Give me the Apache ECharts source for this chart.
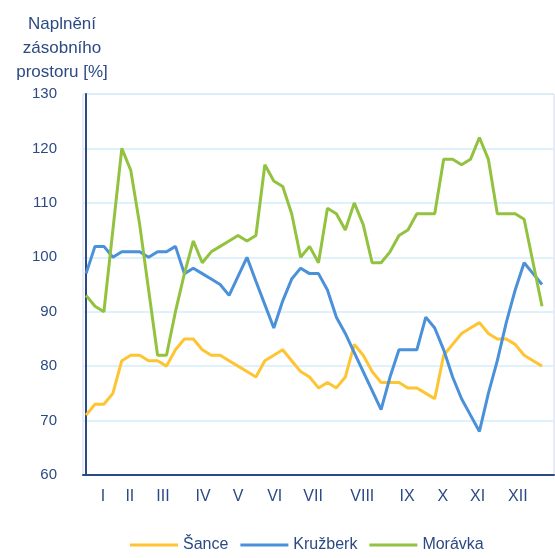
<!DOCTYPE html>
<html>
<head>
<meta charset="utf-8">
<script src="https://cdn.jsdelivr.net/npm/echarts@6/dist/echarts.min.js"></script>
<style>
html,body{margin:0;padding:0;background:#fff;}
#container{width:555px;height:558px;}
</style>
</head>
<body>
<div id="container"></div>
<script>
// tydenni hodnoty naplneni [%], 52 tydnu
var sance = [71,73,73,75,81,82,82,81,81,80,83,85,85,83,82,82,81,80,79,78,81,82,83,81,79,78,
	76,77,76,78,84,82,79,77,77,77,76,76,75,74,82,84,86,87,88,86,85,85,84,82,81,80];
var kruzberk = [97,102,102,100,101,101,101,100,101,101,102,97,98,97,96,95,93,96.5,100,95.6,91.3,87,
	92,96,98,97,97,94,89,86,82.5,79,75.5,72,78,83,83,83,89,87,83,78,74,71,68,75,81,88,94,99,97,95];
var moravka = [93,91,90,105,120,116,106,94,82,82,90,97,103,99,101,102,103,104,103,104,117,114,
	113,108,100,102,99,109,108,105,110,106,99,99,101,104,105,108,108,108,118,118,117,118,122,118,108,108,108,107,99,91];
var mesice = ['I','II','III','IV','V','VI','VII','VIII','IX','X','XI','XII'];
var mesicePozice = [1.9,4.9,8.6,13.1,17,21.1,25.4,30.9,35.9,39.9,43.8,48.3];

var graf = {};
graf.navy = '#2B4A84';
graf.toPairs = function(arr){
	return arr.map(function(v,i){ return [i,v]; });
}
graf.init = function(){
	var myChart = echarts.init(document.getElementById('container'));
	var option = graf.getOption();
	myChart.setOption(option, true);
}
graf.getOption = function(){
	var option = {
		animation:false,
		backgroundColor:'#fff',
		textStyle:{ fontFamily:'Liberation Sans, Arial, sans-serif' },
		graphic:[{
			type:'text',
			x:62, y:12,
			style:{
				text:'Naplnění\nzásobního\nprostoru [%]',
				textAlign:'center',
				fill:graf.navy,
				fontSize:17,
				lineHeight:24,
				fontFamily:'Liberation Sans, Arial, sans-serif'
			}
		}],
		grid:{
			left:83, top:94, right:1, bottom:83,
			show:true,
			borderColor:'#D3DAEA',
			borderWidth:1
		},
		legend:{
			top:532,
			left:125,
			icon:'rect',
			itemWidth:48,
			itemHeight:3,
			itemGap:12,
			textStyle:{ color:graf.navy, fontSize:16 },
			data:['Šance','Kružberk','Morávka']
		},
		xAxis:{
			type:'value',
			min:-0.34,
			max:52.34,
			axisLine:{ show:true, lineStyle:{ color:graf.navy, width:2 } },
			axisTick:{ show:false },
			splitLine:{ show:false },
			axisLabel:{
				customValues:mesicePozice,
				color:graf.navy,
				fontSize:16,
				margin:14,
				formatter:function(v){
					var i = mesicePozice.indexOf(v);
					return i >= 0 ? mesice[i] : '';
				}
			}
		},
		yAxis:{
			type:'value',
			min:60,
			max:130,
			interval:10,
			axisLine:{ show:true, lineStyle:{ color:graf.navy, width:2 } },
			axisTick:{ show:false },
			splitLine:{ lineStyle:{ color:'#D5ECF8', width:1.5 } },
			axisLabel:{ color:graf.navy, fontSize:15, margin:26 }
		},
		series:[{
			name:'Šance',
			type:'line',
			showSymbol:false,
			color:'#FFC432',
			lineStyle:{ width:3 },
			data:graf.toPairs(sance)
		},{
			name:'Kružberk',
			type:'line',
			showSymbol:false,
			color:'#4A91D9',
			lineStyle:{ width:3 },
			data:graf.toPairs(kruzberk)
		},{
			name:'Morávka',
			type:'line',
			showSymbol:false,
			color:'#92C23E',
			lineStyle:{ width:3 },
			data:graf.toPairs(moravka)
		}]
	};
	return option;
}
graf.init();
</script>
</body>
</html>
